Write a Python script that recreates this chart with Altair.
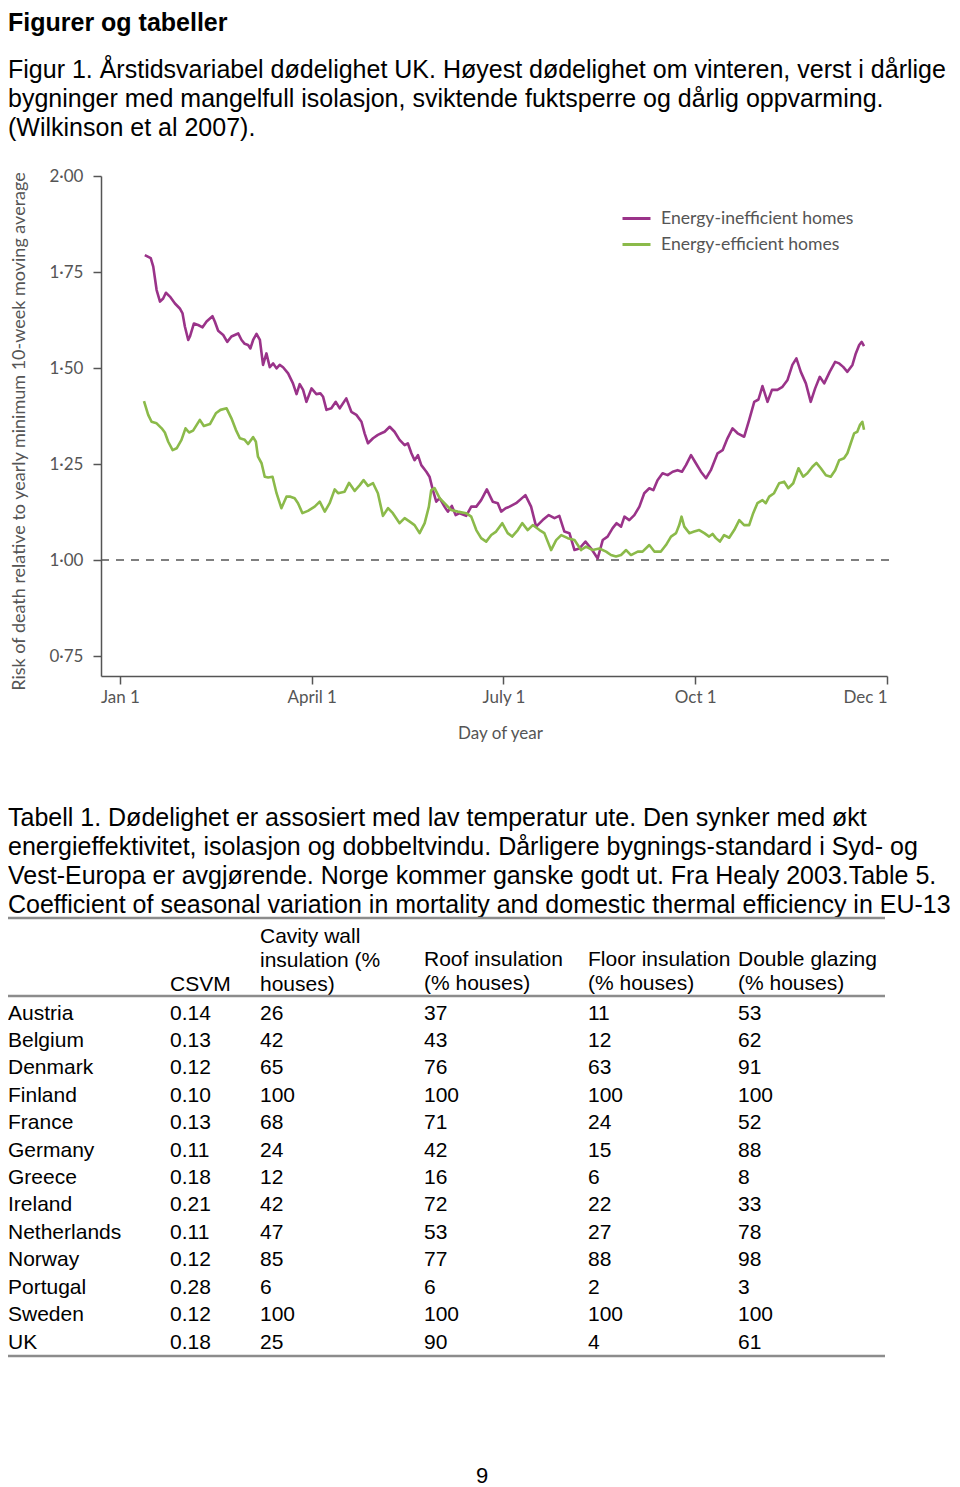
import json
import altair as alt
import pandas as pd

# ---------------- text content ----------------
heading = "Figurer og tabeller"
fig_caption = [
    "Figur 1. Årstidsvariabel dødelighet UK. Høyest dødelighet om vinteren, verst i dårlige",
    "bygninger med mangelfull isolasjon, sviktende fuktsperre og dårlig oppvarming.",
    "(Wilkinson et al 2007).",
]
tab_caption = [
    "Tabell 1. Dødelighet er assosiert med lav temperatur ute. Den synker med økt",
    "energieffektivitet, isolasjon og dobbeltvindu. Dårligere bygnings-standard i Syd- og",
    "Vest-Europa er avgjørende. Norge kommer ganske godt ut. Fra Healy 2003.Table 5.",
    "Coefficient of seasonal variation in mortality and domestic thermal efficiency in EU-13",
]
page_number = "9"

# ---------------- figure data ----------------
series_names = ["Energy-inefficient homes", "Energy-efficient homes"]
x_tick_days = [0, 91, 182, 273, 364]
x_tick_labels = ["Jan 1", "April 1", "July 1", "Oct 1", "Dec 1"]
y_ticks = [0.75, 1.0, 1.25, 1.5, 1.75, 2.0]
reference_level = 1.0

# (day of year, relative risk)
inefficient_points = [
    (11.8, 1.794), (14.6, 1.786), (15.8, 1.764), (17.4, 1.703), (19.0, 1.673), (20.5, 1.681),
    (21.8, 1.696), (23.7, 1.686), (26.1, 1.668), (28.4, 1.655), (29.7, 1.642), (30.8, 1.608),
    (32.4, 1.573), (33.2, 1.582), (35.1, 1.616), (37.1, 1.612), (39.2, 1.606), (41.1, 1.621),
    (43.9, 1.635), (45.0, 1.621), (46.6, 1.597), (49.0, 1.586), (50.9, 1.568), (52.9, 1.582),
    (56.1, 1.590), (57.7, 1.573), (59.2, 1.563), (60.8, 1.560), (61.9, 1.551), (63.2, 1.573),
    (64.8, 1.589), (66.4, 1.573), (67.9, 1.508), (69.5, 1.538), (71.1, 1.502), (72.7, 1.512),
    (74.3, 1.499), (75.8, 1.508), (77.4, 1.502), (79.8, 1.486), (82.1, 1.460), (83.8, 1.432),
    (85.3, 1.458), (86.9, 1.443), (88.5, 1.412), (90.9, 1.447), (93.2, 1.432), (95.1, 1.434),
    (96.4, 1.425), (98.0, 1.391), (100.3, 1.395), (102.4, 1.412), (104.3, 1.395), (107.4, 1.421),
    (109.8, 1.386), (112.2, 1.378), (114.6, 1.360), (116.1, 1.330), (117.7, 1.304), (120.1, 1.317),
    (122.4, 1.326), (124.0, 1.330), (125.6, 1.334), (128.0, 1.347), (130.3, 1.334), (132.7, 1.313),
    (135.1, 1.299), (136.6, 1.304), (138.3, 1.278), (139.8, 1.260), (141.4, 1.273), (143.0, 1.247),
    (145.4, 1.230), (146.9, 1.217), (148.5, 1.182), (150.1, 1.152), (151.7, 1.161), (154.0, 1.139),
    (155.6, 1.126), (157.5, 1.141), (159.3, 1.117), (161.2, 1.122), (164.3, 1.115), (166.7, 1.139),
    (169.1, 1.139), (171.4, 1.156), (174.1, 1.184), (175.4, 1.169), (176.9, 1.152), (179.3, 1.148),
    (180.9, 1.126), (183.0, 1.135), (184.9, 1.139), (188.0, 1.148), (192.4, 1.169), (195.1, 1.139),
    (197.5, 1.087), (200.6, 1.104), (203.5, 1.117), (206.2, 1.109), (208.5, 1.115), (210.9, 1.074),
    (213.3, 1.070), (215.7, 1.026), (218.0, 1.030), (220.9, 1.048), (223.6, 1.030), (226.7, 1.004),
    (229.1, 1.052), (231.4, 1.061), (233.8, 1.083), (235.7, 1.096), (237.8, 1.087), (239.4, 1.113),
    (241.7, 1.104), (244.1, 1.117), (246.5, 1.139), (248.8, 1.174), (251.2, 1.187), (253.1, 1.182),
    (255.1, 1.208), (257.5, 1.226), (259.9, 1.221), (262.3, 1.230), (264.6, 1.234), (266.7, 1.230),
    (268.6, 1.247), (271.0, 1.273), (273.3, 1.252), (275.7, 1.230), (278.1, 1.213), (280.4, 1.234),
    (283.6, 1.278), (286.0, 1.286), (288.3, 1.317), (290.7, 1.343), (293.1, 1.330), (296.2, 1.321),
    (298.6, 1.365), (301.0, 1.412), (303.0, 1.418), (304.9, 1.453), (307.3, 1.412), (309.4, 1.443),
    (312.0, 1.443), (314.4, 1.451), (316.8, 1.469), (319.1, 1.508), (321.0, 1.525), (323.1, 1.490),
    (325.5, 1.460), (327.8, 1.412), (329.9, 1.447), (332.1, 1.477), (334.2, 1.460), (336.8, 1.490),
    (339.4, 1.516), (341.3, 1.512), (343.2, 1.503), (345.2, 1.490), (347.6, 1.508), (349.2, 1.538),
    (350.8, 1.560), (352.0, 1.568), (353.1, 1.557),
]
efficient_points = [
    (11.4, 1.414), (13.4, 1.378), (15.0, 1.360), (17.4, 1.356), (19.8, 1.343), (21.3, 1.332),
    (22.9, 1.308), (25.0, 1.286), (26.9, 1.291), (29.2, 1.313), (31.1, 1.343), (32.8, 1.332),
    (34.7, 1.337), (37.9, 1.365), (39.8, 1.349), (42.7, 1.354), (45.5, 1.382), (47.7, 1.391),
    (50.6, 1.395), (52.9, 1.369), (55.0, 1.339), (56.9, 1.317), (59.2, 1.313), (60.8, 1.302),
    (63.2, 1.320), (64.5, 1.308), (65.5, 1.269), (67.2, 1.252), (68.7, 1.217), (70.3, 1.215),
    (72.4, 1.217), (74.3, 1.174), (76.6, 1.135), (79.0, 1.165), (80.9, 1.165), (82.9, 1.161),
    (84.5, 1.148), (86.6, 1.122), (89.2, 1.128), (92.4, 1.139), (94.8, 1.152), (97.2, 1.126),
    (99.5, 1.148), (101.9, 1.184), (103.5, 1.174), (106.6, 1.178), (108.7, 1.201), (111.4, 1.180),
    (113.8, 1.195), (115.6, 1.208), (117.7, 1.193), (120.1, 1.200), (122.4, 1.174), (124.8, 1.115),
    (127.2, 1.135), (129.5, 1.122), (132.7, 1.096), (135.1, 1.109), (137.5, 1.100), (139.8, 1.091),
    (142.2, 1.070), (144.6, 1.096), (146.6, 1.139), (147.7, 1.182), (149.3, 1.187), (151.7, 1.161),
    (154.0, 1.148), (157.2, 1.130), (160.3, 1.126), (164.3, 1.122), (166.7, 1.113), (169.1, 1.078),
    (171.4, 1.057), (173.8, 1.048), (176.2, 1.065), (178.5, 1.074), (181.4, 1.096), (184.0, 1.070),
    (186.1, 1.061), (188.8, 1.078), (190.9, 1.096), (193.5, 1.078), (195.9, 1.091), (199.1, 1.078),
    (201.4, 1.070), (204.6, 1.026), (207.0, 1.052), (209.4, 1.065), (212.5, 1.057), (215.7, 1.052),
    (218.8, 1.026), (221.2, 1.035), (224.3, 1.026), (227.5, 1.030), (230.7, 1.022), (233.0, 1.013),
    (235.4, 1.009), (237.8, 1.013), (240.2, 1.026), (242.5, 1.013), (245.7, 1.022), (248.0, 1.022),
    (251.2, 1.039), (253.6, 1.022), (256.7, 1.022), (259.1, 1.039), (261.5, 1.061), (263.9, 1.070),
    (265.4, 1.091), (266.5, 1.113), (267.8, 1.087), (270.2, 1.070), (272.5, 1.074), (274.9, 1.078),
    (277.3, 1.070), (279.6, 1.061), (281.2, 1.068), (282.8, 1.057), (284.7, 1.048), (286.7, 1.065),
    (289.1, 1.058), (291.5, 1.078), (293.9, 1.104), (296.2, 1.091), (298.6, 1.091), (300.5, 1.122),
    (302.5, 1.148), (304.9, 1.156), (306.5, 1.148), (308.1, 1.165), (310.4, 1.174), (312.8, 1.200),
    (315.2, 1.204), (317.2, 1.187), (319.5, 1.200), (322.0, 1.239), (324.2, 1.217), (326.2, 1.226),
    (328.6, 1.243), (330.5, 1.253), (332.6, 1.239), (335.0, 1.221), (337.3, 1.217), (339.4, 1.234),
    (341.3, 1.260), (343.6, 1.265), (345.2, 1.278), (346.8, 1.304), (348.4, 1.330), (349.9, 1.334),
    (351.2, 1.352), (352.3, 1.360), (353.1, 1.339),
]

# ---------------- table data ----------------
countries = ["Austria", "Belgium", "Denmark", "Finland", "France", "Germany", "Greece",
             "Ireland", "Netherlands", "Norway", "Portugal", "Sweden", "UK"]
csvm = [0.14, 0.13, 0.12, 0.10, 0.13, 0.11, 0.18, 0.21, 0.11, 0.12, 0.28, 0.12, 0.18]
cavity_wall = [26, 42, 65, 100, 68, 24, 12, 42, 47, 85, 6, 100, 25]
roof = [37, 43, 76, 100, 71, 42, 16, 72, 53, 77, 6, 100, 90]
floor = [11, 12, 63, 100, 24, 15, 6, 22, 27, 88, 2, 100, 4]
double_glazing = [53, 62, 91, 100, 52, 88, 8, 33, 78, 98, 3, 100, 61]
col_headers = {
    "csvm": ["CSVM"],
    "cavity": ["Cavity wall", "insulation (%", "houses)"],
    "roof": ["Roof insulation", "(% houses)"],
    "floor": ["Floor insulation", "(% houses)"],
    "glazing": ["Double glazing", "(% houses)"],
}

# ---------------- build ----------------
W, H = 944, 1479
PURPLE, GREEN = "#9a3389", "#8bba4a"
GREY = "#555555"
CHART_FONT = "Lato"
DOC_FONT = "Liberation Sans"

line_df = pd.DataFrame(
    [{"series": series_names[0], "day": d, "value": v} for d, v in inefficient_points]
    + [{"series": series_names[1], "day": d, "value": v} for d, v in efficient_points]
)

x_scale = alt.Scale(domain=[-9, 364], range=[93, 879], nice=False, zero=False)
y_scale = alt.Scale(domain=[0.698, 2.0], range=[668, 168], nice=False, zero=False)

x_label_expr = "{}[indexof({}, datum.value)]".format(json.dumps(x_tick_labels), json.dumps(x_tick_days))

x_axis = alt.Axis(
    values=x_tick_days, labelExpr=x_label_expr, title="Day of year", orient="bottom",
    offset=668 - H, tickSize=8, labelPadding=5, labelFont=CHART_FONT, labelFontSize=17,
    labelColor=GREY, titleFont=CHART_FONT, titleFontSize=17, titleColor=GREY,
    titleFontWeight="normal", titleX=492, titleY=57, titleBaseline="middle",
    domainColor=GREY, domainWidth=1.5, tickColor=GREY, tickWidth=1.5, grid=False,
)
y_axis = alt.Axis(
    values=y_ticks, labelExpr="replace(format(datum.value, '.2f'), '.', '·')",
    title="Risk of death relative to yearly minimum 10-week moving average", orient="left",
    offset=-93, tickSize=8, labelPadding=10, labelFont=CHART_FONT, labelFontSize=17,
    labelColor=GREY, titleFont=CHART_FONT, titleFontSize=18, titleColor=GREY,
    titleFontWeight="normal", titleX=-82, titleY=423, titleBaseline="middle", titleAngle=-90,
    titleLimit=0,
    domainColor=GREY, domainWidth=1.5, tickColor=GREY, tickWidth=1.5, grid=False,
)

ref_df = pd.DataFrame({"y": [reference_level], "x": [-9], "x2": [365]})
ref_rule = alt.Chart(ref_df).mark_rule(strokeDash=[8, 7], strokeWidth=1.5, color=GREY).encode(
    x=alt.X("x:Q", scale=x_scale, title="Day of year"),
    x2="x2:Q",
    y=alt.Y("y:Q", scale=y_scale, axis=None),
)

lines = alt.Chart(line_df).mark_line(strokeWidth=2.6, strokeJoin="round").encode(
    x=alt.X("day:Q", scale=x_scale, axis=x_axis),
    y=alt.Y("value:Q", scale=y_scale, axis=y_axis),
    color=alt.Color(
        "series:N",
        scale=alt.Scale(domain=series_names, range=[PURPLE, GREEN]),
        legend=alt.Legend(
            title=None, orient="none", legendX=613, legendY=195, symbolType="stroke",
            symbolSize=784, symbolStrokeWidth=3, labelFont=CHART_FONT, labelFontSize=17.6,
            labelColor=GREY, labelOffset=9, rowPadding=1, padding=0, labelLimit=0,
        ),
    ),
)


def text_block(lines_list, x, y, size, line_height, bold=False, align="left"):
    df = pd.DataFrame({"t": ["\n".join(lines_list)]})
    return alt.Chart(df).mark_text(
        align=align, baseline="alphabetic", font=DOC_FONT, fontSize=size,
        fontWeight="bold" if bold else "normal", color="black", lineBreak="\n",
        lineHeight=line_height,
    ).encode(x=alt.value(x), y=alt.value(y), text="t:N")


layers = [ref_rule, lines]
layers.append(text_block([heading], 0, 23, 25, 29, bold=True))
layers.append(text_block(fig_caption, 0, 70, 25, 29))
layers.append(text_block(tab_caption, 0, 818, 25, 29))

# table header
header_pos = {"csvm": (162, 982.5), "cavity": (252, 934.5), "roof": (416, 957.5),
              "floor": (580, 957.5), "glazing": (730, 957.5)}
for key, (hx, hy) in header_pos.items():
    layers.append(text_block(col_headers[key], hx, hy, 21, 24))

# table rules
rule_dummy = pd.DataFrame({"k": [0]})
for ry in [910, 988, 1348]:
    layers.append(
        alt.Chart(rule_dummy).mark_rule(color="#8c8c8c", strokeWidth=2.5).encode(
            x=alt.value(0), x2=alt.value(877), y=alt.value(ry)
        )
    )

# table body
table_df = pd.DataFrame({
    "country": countries, "csvm": csvm, "cavity": cavity_wall, "roof": roof,
    "floor": floor, "glazing": double_glazing,
})
row_scale = alt.Scale(type="point", domain=countries, range=[1011.5, 1340.5], padding=0)
table_cols = [("country", 0, None), ("csvm", 162, ".2f"), ("cavity", 252, "d"),
              ("roof", 416, "d"), ("floor", 580, "d"), ("glazing", 730, "d")]
for field, cx, fmt in table_cols:
    if fmt is None:
        txt = alt.Text(f"{field}:N")
    else:
        txt = alt.Text(f"{field}:Q", format=fmt)
    layers.append(
        alt.Chart(table_df).mark_text(
            align="left", baseline="alphabetic", font=DOC_FONT, fontSize=21, color="black"
        ).encode(
            x=alt.value(cx),
            y=alt.Y("country:N", scale=row_scale, axis=None),
            text=txt,
        )
    )

layers.append(text_block([page_number], 474, 1475, 22, 24, align="center"))

chart = alt.layer(*layers).resolve_scale(y="independent").properties(
    width=W, height=H, padding=0, autosize=alt.AutoSizeParams(type="none")
).configure_view(stroke=None)

chart.save("out.html", embed_options={"renderer": "svg", "actions": False})
